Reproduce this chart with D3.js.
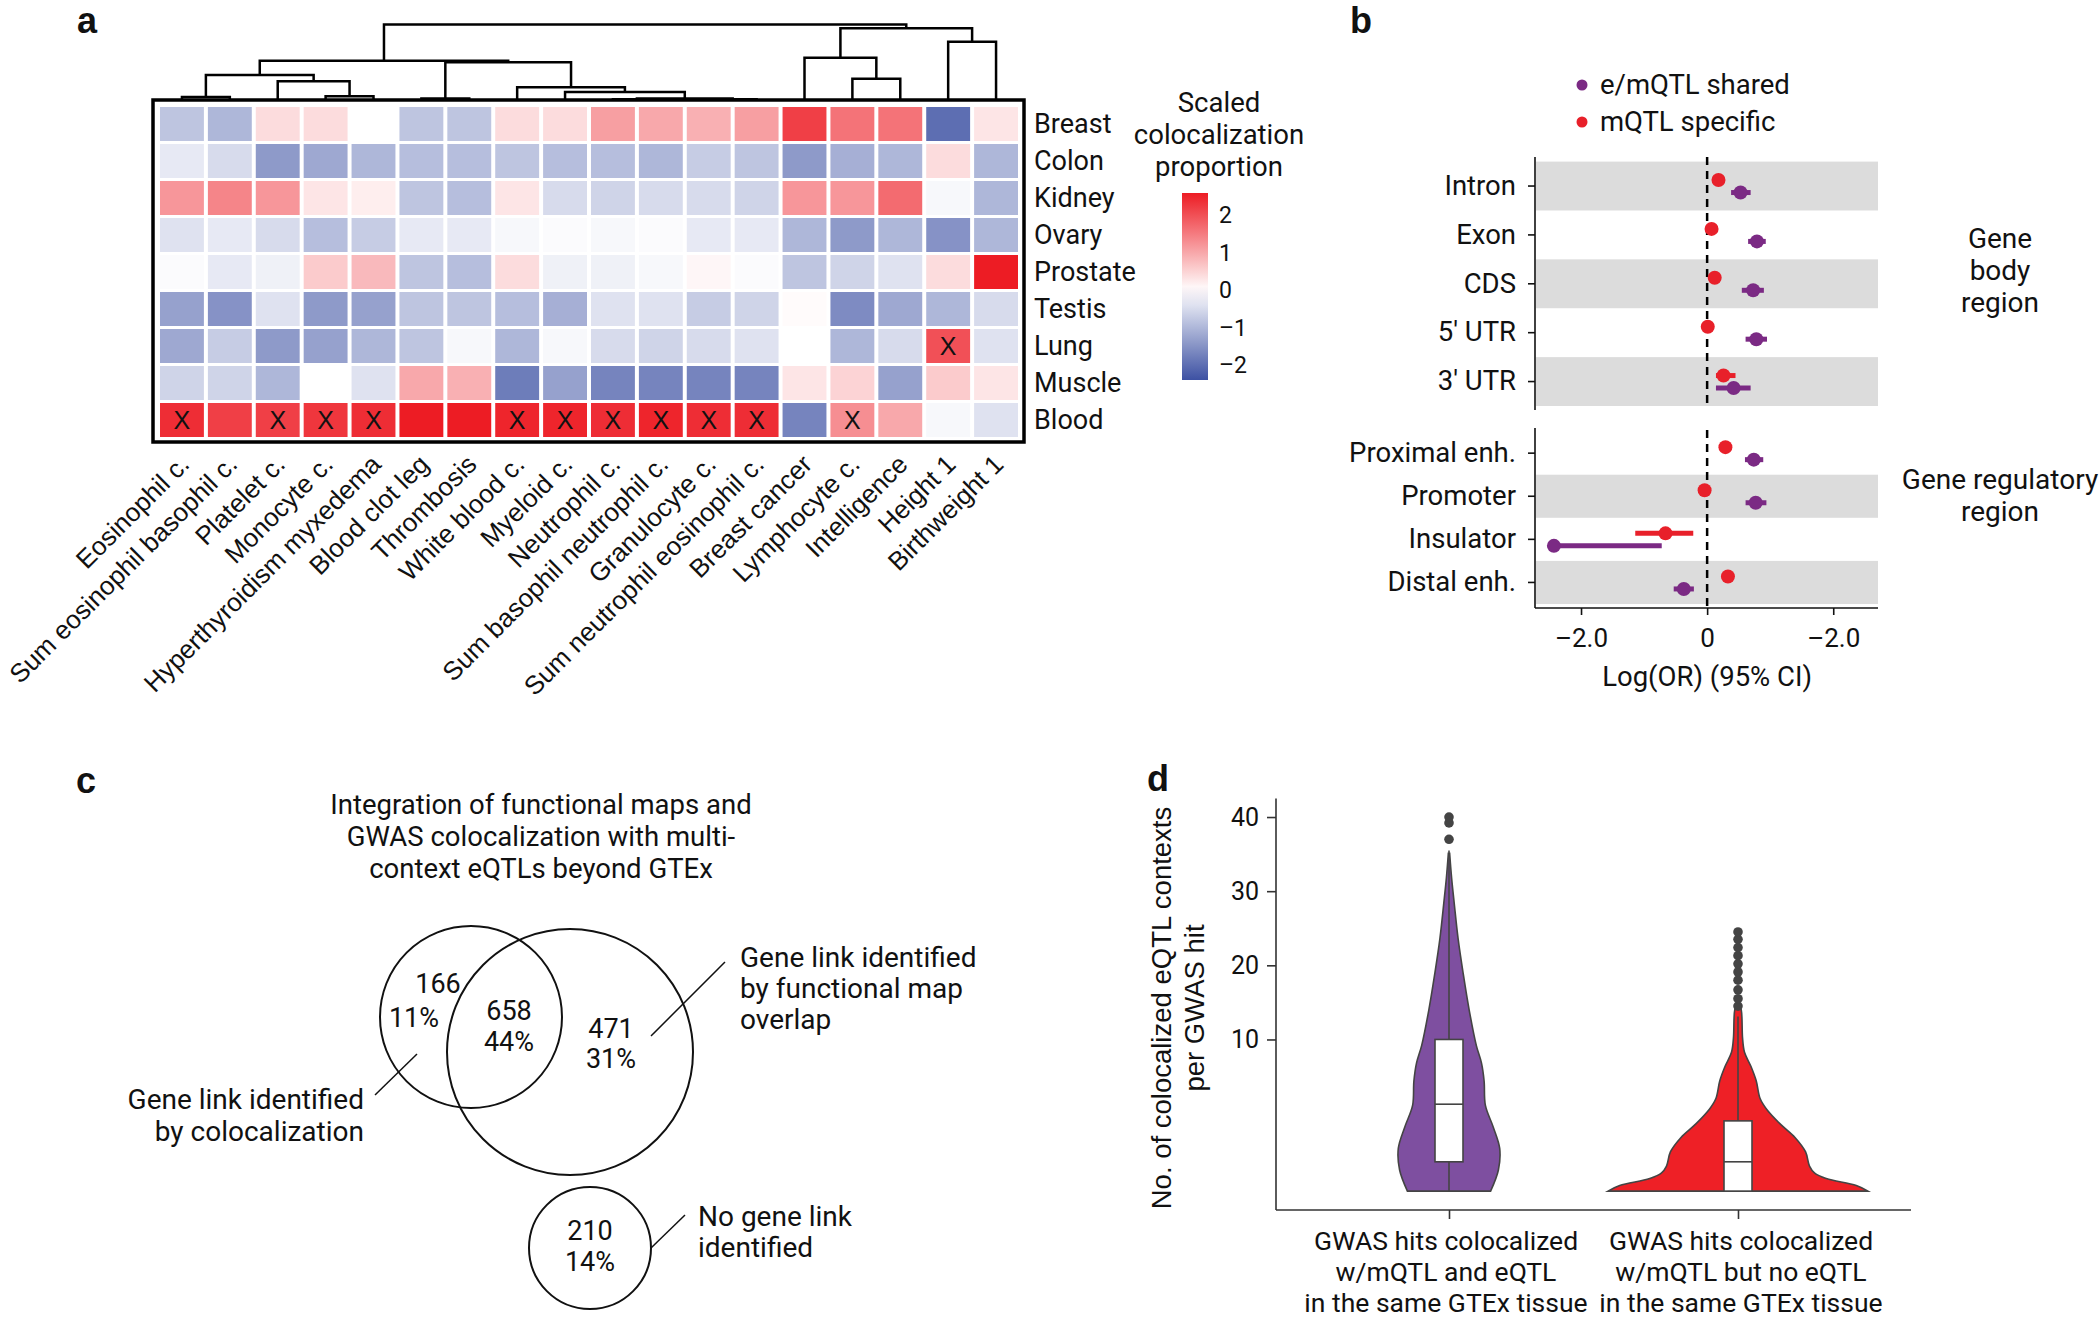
<!DOCTYPE html>
<html>
<head>
<meta charset="utf-8">
<script src="https://cdn.jsdelivr.net/npm/d3@7"></script>
<style>
  body { margin: 0; background: #fff; }
  text { font-family: Roboto, "Noto Sans", sans-serif; fill: #111; }
  .lab { font-family: "Liberation Sans", Arial, sans-serif; font-weight: bold; font-size: 36px; }
</style>
</head>
<body>
<svg id="fig" width="2100" height="1319"></svg>
<script>
var svg = d3.select("#fig");
svg.append("rect").attr("width", 2100).attr("height", 1319).attr("fill", "#fff");

// ---------- panel a data ----------
var traits = ["Eosinophil c.", "Sum eosinophil basophil c.", "Platelet c.", "Monocyte c.",
  "Hyperthyroidism myxedema", "Blood clot leg", "Thrombosis", "White blood c.", "Myeloid c.",
  "Neutrophil c.", "Sum basophil neutrophil c.", "Granulocyte c.", "Sum neutrophil eosinophil c.",
  "Breast cancer", "Lymphocyte c.", "Intelligence", "Height 1", "Birthweight 1"];
var tissues = ["Breast", "Colon", "Kidney", "Ovary", "Prostate", "Testis", "Lung", "Muscle", "Blood"];
var heat = [
  [-0.8, -1.0, 0.4, 0.4, 0.0, -0.8, -0.8, 0.4, 0.4, 1.1, 1.0, 0.9, 1.1, 2.2, 1.6, 1.6, -2.0, 0.3],
  [-0.3, -0.5, -1.4, -1.2, -1.0, -0.9, -0.9, -0.8, -0.9, -0.9, -1.0, -0.7, -0.8, -1.4, -1.1, -1.0, 0.4, -1.0],
  [1.2, 1.4, 1.2, 0.3, 0.2, -0.8, -0.9, 0.3, -0.5, -0.6, -0.5, -0.5, -0.6, 1.2, 1.2, 1.7, -0.1, -1.0],
  [-0.4, -0.3, -0.5, -0.9, -0.7, -0.3, -0.3, -0.1, -0.05, -0.1, -0.05, -0.3, -0.3, -1.0, -1.4, -1.0, -1.5, -1.0],
  [-0.05, -0.3, -0.2, 0.6, 0.8, -0.8, -0.9, 0.4, -0.2, -0.2, -0.1, 0.1, -0.05, -0.8, -0.6, -0.4, 0.4, 2.6],
  [-1.3, -1.5, -0.4, -1.4, -1.3, -0.8, -0.8, -0.9, -1.1, -0.4, -0.4, -0.7, -0.6, 0.05, -1.6, -1.2, -1.0, -0.5],
  [-1.2, -0.7, -1.4, -1.3, -1.0, -0.8, -0.1, -1.0, -0.1, -0.5, -0.6, -0.5, -0.4, 0.0, -1.0, -0.5, 2.0, -0.4],
  [-0.6, -0.6, -1.0, 0.0, -0.4, 1.0, 0.9, -1.8, -1.3, -1.7, -1.7, -1.7, -1.7, 0.3, 0.5, -1.3, 0.6, 0.3],
  [2.4, 2.2, 2.2, 2.3, 2.4, 2.6, 2.6, 2.5, 2.5, 2.4, 2.5, 2.4, 2.4, -1.7, 1.3, 1.0, -0.1, -0.4]
];
// [row, col] of cells marked with X
var xMarks = [[8,0],[8,2],[8,3],[8,4],[8,7],[8,8],[8,9],[8,10],[8,11],[8,12],[8,14],[6,16]];
// dendrogram: [height, left, right], leaves are column indices
var tree = [1.0,
  [0.52, [0.33, [0.04, 0, 1], [0.25, 2, [0.05, 3, 4]]],
         [0.50, [0.02, 5, 6], [0.17, 7, [0.105, 8, [0.02, [0.01, 9, 10], [0.01, 11, 12]]]]]],
  [0.95, [0.56, 13, [0.28, 14, 15]], [0.77, 16, 17]]];
var barTicks = [2, 1, 0, -1, -2];
var barTickLabels = ["2", "1", "0", "\u20131", "\u20132"];

// ---------- panel a ----------
var color = d3.scaleLinear().domain([-2.4, 0, 2.6]).range(["#3d51a3", "#ffffff", "#ed1c24"]);
var hx = d3.scaleBand().domain(d3.range(traits.length)).range([158, 1020]);
var hy = d3.scaleBand().domain(d3.range(tissues.length)).range([105.5, 438.5]);

var gA = svg.append("g");
gA.append("text").attr("class", "lab").attr("x", 77).attr("y", 33).text("a");

heat.forEach(function(row, r) {
  row.forEach(function(v, c) {
    gA.append("rect")
      .attr("x", hx(c) + 2).attr("y", hy(r) + 1.5)
      .attr("width", hx.bandwidth() - 4).attr("height", hy.bandwidth() - 3)
      .attr("fill", color(v));
  });
});
gA.selectAll(".xm").data(xMarks).enter().append("text")
  .attr("x", function(d) { return hx(d[1]) + hx.bandwidth() / 2; })
  .attr("y", function(d) { return hy(d[0]) + hy.bandwidth() / 2 + 9; })
  .attr("text-anchor", "middle").style("font-family", "'Liberation Sans', Arial")
  .style("font-size", "25px").text("X");

gA.append("rect").attr("x", 153).attr("y", 100).attr("width", 871).attr("height", 342)
  .attr("fill", "none").attr("stroke", "#000").attr("stroke-width", 3.5);

// dendrogram
var dy = d3.scaleLinear().domain([0, 1]).range([100, 24.5]);
function drawNode(n) {
  if (typeof n === "number") return {x: hx(n) + hx.bandwidth() / 2, y: dy(0)};
  var l = drawNode(n[1]), r = drawNode(n[2]), y = dy(n[0]);
  gA.append("path")
    .attr("d", "M" + l.x + "," + l.y + "V" + y + "H" + r.x + "V" + r.y)
    .attr("fill", "none").attr("stroke", "#000").attr("stroke-width", 2.5);
  return {x: (l.x + r.x) / 2, y: y};
}
drawNode(tree);

gA.selectAll(".rl").data(tissues).enter().append("text")
  .attr("x", 1034).attr("y", function(d, i) { return hy(i) + hy.bandwidth() / 2 + 9; })
  .style("font-size", "27px").text(function(d) { return d; });

gA.selectAll(".cl").data(traits).enter().append("text")
  .attr("text-anchor", "end")
  .attr("transform", function(d, i) {
    return "translate(" + (hx(i) + hx.bandwidth() / 2 + 9) + ",466) rotate(-45)";
  })
  .style("font-family", "'Liberation Sans', Arial").style("font-size", "26px")
  .text(function(d) { return d; });

// colour bar
var grad = svg.append("defs").append("linearGradient").attr("id", "cbar")
  .attr("x1", 0).attr("y1", 0).attr("x2", 0).attr("y2", 1);
d3.range(0, 1.001, 0.1).forEach(function(t) {
  grad.append("stop").attr("offset", t).attr("stop-color", color(2.6 - 5 * t));
});
var cb = d3.scaleLinear().domain([2.6, -2.4]).range([193, 380]);
gA.append("rect").attr("x", 1182).attr("y", 193).attr("width", 26).attr("height", 187)
  .attr("fill", "url(#cbar)");
gA.selectAll(".cbt").data(barTicks).enter().append("text")
  .attr("x", 1219).attr("y", function(d) { return cb(d) + 8; })
  .style("font-size", "23px").text(function(d, i) { return barTickLabels[i]; });
["Scaled", "colocalization", "proportion"].forEach(function(t, i) {
  gA.append("text").attr("x", 1219).attr("y", 112 + i * 32).attr("text-anchor", "middle")
    .style("font-size", "27.5px").text(t);
});

// ---------- panel b data ----------
var regions = ["Intron", "Exon", "CDS", "5' UTR", "3' UTR", "Proximal enh.", "Promoter", "Insulator", "Distal enh."];
var sharedOR = [0.53, 0.79, 0.73, 0.78, 0.42, 0.74, 0.77, -2.43, -0.37];
var sharedLo = [0.38, 0.65, 0.55, 0.61, 0.14, 0.60, 0.61, -2.50, -0.53];
var sharedHi = [0.69, 0.93, 0.90, 0.95, 0.69, 0.89, 0.94, -0.72, -0.21];
var specOR = [0.18, 0.07, 0.12, 0.01, 0.26, 0.29, -0.04, -0.66, 0.33];
var specLo = [0.10, 0.00, 0.04, -0.07, 0.14, 0.21, -0.14, -1.14, 0.25];
var specHi = [0.26, 0.14, 0.20, 0.09, 0.45, 0.37, 0.06, -0.22, 0.41];
var orTicks = [-2, 0, 2];
var orTickLabels = ["\u20132.0", "0", "\u20132.0"];

// ---------- panel b ----------
var gB = svg.append("g");
gB.append("text").attr("class", "lab").attr("x", 1350).attr("y", 33).text("b");
var bx = d3.scaleLinear().domain([-2.73, 2.71]).range([1535, 1878]);
var byTop = d3.scaleBand().domain(regions.slice(0, 5)).range([161.6, 406]);
var byBot = d3.scaleBand().domain(regions.slice(5)).range([431.6, 604]);
function isTop(name) { return byTop.domain().indexOf(name) >= 0; }
function by(name) { return isTop(name) ? byTop(name) : byBot(name); }
function bh(name) { return isTop(name) ? byTop.bandwidth() : byBot.bandwidth(); }

regions.forEach(function(r, i) {
  if (i % 2 === 0) {
    gB.append("rect").attr("x", 1536).attr("y", by(r)).attr("width", 342).attr("height", bh(r))
      .attr("fill", "#dcdcdc");
  }
});
// zero line
[[157, 406], [430, 608]].forEach(function(s) {
  gB.append("line").attr("x1", bx(0)).attr("x2", bx(0)).attr("y1", s[0]).attr("y2", s[1])
    .attr("stroke", "#000").attr("stroke-width", 2.5).attr("stroke-dasharray", "8,6");
});
// axes
var axTop = gB.append("g").attr("transform", "translate(1535,0)")
  .call(d3.axisLeft(byTop).tickSize(7).tickSizeOuter(0).tickPadding(12));
axTop.select(".domain").attr("d", "M0,157V410");
var axBot = gB.append("g").attr("transform", "translate(1535,0)")
  .call(d3.axisLeft(byBot).tickSize(7).tickSizeOuter(0).tickPadding(12));
axBot.select(".domain").attr("d", "M0,428V608");
var axX = gB.append("g").attr("transform", "translate(0,608)")
  .call(d3.axisBottom(bx).tickValues(orTicks).tickSize(7).tickSizeOuter(0).tickPadding(14)
    .tickFormat(function(d, i) { return orTickLabels[i]; }));
axX.select(".domain").attr("d", "M1535,0H1878");
[axTop, axBot, axX].forEach(function(a) {
  a.selectAll(".tick text").style("font-size", "27.5px").style("font-family", "Roboto").attr("fill", "#111");
  a.selectAll(".tick line, .domain").attr("stroke", "#111").attr("stroke-width", 1.6);
});
axX.selectAll(".tick text").style("font-size", "26px");

var purple = "#7b2a84", red = "#e8202a";
regions.forEach(function(r, i) {
  var c = by(r) + bh(r) / 2;
  gB.append("line").attr("x1", bx(specLo[i])).attr("x2", bx(specHi[i]))
    .attr("y1", c - 6).attr("y2", c - 6).attr("stroke", red).attr("stroke-width", 5);
  gB.append("circle").attr("cx", bx(specOR[i])).attr("cy", c - 6).attr("r", 7).attr("fill", red);
  gB.append("line").attr("x1", bx(sharedLo[i])).attr("x2", bx(sharedHi[i]))
    .attr("y1", c + 6.5).attr("y2", c + 6.5).attr("stroke", purple).attr("stroke-width", 5);
  gB.append("circle").attr("cx", bx(sharedOR[i])).attr("cy", c + 6.5).attr("r", 7).attr("fill", purple);
});
gB.append("text").attr("x", bx(0)).attr("y", 686).attr("text-anchor", "middle")
  .style("font-size", "27.5px").text("Log(OR) (95% CI)");
// legend
[["e/mQTL shared", purple], ["mQTL specific", red]].forEach(function(d, i) {
  gB.append("circle").attr("cx", 1582).attr("cy", 85 + i * 37).attr("r", 5.5).attr("fill", d[1]);
  gB.append("text").attr("x", 1600).attr("y", 94 + i * 37).style("font-size", "27.5px").text(d[0]);
});
[["Gene", "body", "region"], ["Gene regulatory", "region"]].forEach(function(lines, k) {
  var y0 = k === 0 ? 248 : 489;
  lines.forEach(function(t, i) {
    gB.append("text").attr("x", 2000).attr("y", y0 + i * 32).attr("text-anchor", "middle")
      .style("font-size", "28px").text(t);
  });
});

// ---------- panel c data ----------
var vennCounts = ["166", "658", "471", "210"];
var vennPct = ["11%", "44%", "31%", "14%"];

// ---------- panel c ----------
var gC = svg.append("g");
gC.append("text").attr("class", "lab").attr("x", 76).attr("y", 793).text("c");
["Integration of functional maps and", "GWAS colocalization with multi-", "context eQTLs beyond GTEx"]
  .forEach(function(t, i) {
    gC.append("text").attr("x", 541).attr("y", 814 + i * 32).attr("text-anchor", "middle")
      .style("font-size", "27.5px").text(t);
  });
[[471, 1017, 91], [570, 1052, 123], [590, 1248, 61]].forEach(function(c) {
  gC.append("circle").attr("cx", c[0]).attr("cy", c[1]).attr("r", c[2])
    .attr("fill", "none").attr("stroke", "#111").attr("stroke-width", 2);
});
var vennPos = [[438, 993, 1027], [509, 1020, 1051], [611, 1038, 1068], [590, 1240, 1271]];
vennPos.forEach(function(p, i) {
  gC.append("text").attr("x", p[0]).attr("y", p[1]).attr("text-anchor", "middle")
    .style("font-size", "27px").text(vennCounts[i]);
  gC.append("text").attr("x", p[0] - (i === 0 ? 24 : 0)).attr("y", p[2]).attr("text-anchor", "middle")
    .style("font-size", "27px").text(vennPct[i]);
});
[[725, 962, 651, 1036], [375, 1095, 417, 1054], [685, 1215, 651, 1248]].forEach(function(l) {
  gC.append("line").attr("x1", l[0]).attr("y1", l[1]).attr("x2", l[2]).attr("y2", l[3])
    .attr("stroke", "#111").attr("stroke-width", 1.5);
});
["Gene link identified", "by functional map", "overlap"].forEach(function(t, i) {
  gC.append("text").attr("x", 740).attr("y", 967 + i * 31).style("font-size", "28px").text(t);
});
["Gene link identified", "by colocalization"].forEach(function(t, i) {
  gC.append("text").attr("x", 364).attr("y", 1109 + i * 32).attr("text-anchor", "end")
    .style("font-size", "28px").text(t);
});
["No gene link", "identified"].forEach(function(t, i) {
  gC.append("text").attr("x", 698).attr("y", 1226 + i * 31).style("font-size", "28px").text(t);
});

// ---------- panel d data ----------
var groups = ["GWAS hits colocalized|w/mQTL and eQTL|in the same GTEx tissue",
              "GWAS hits colocalized|w/mQTL but no eQTL|in the same GTEx tissue"];
var countTicks = [10, 20, 30, 40];
var violinAVal = [-10.45, -7.6, -4.7, -1.8, 1.1, 4.4, 6.8, 9.2, 14, 18.8, 23.6, 28.4, 31.8, 35.1];
var violinADen = [0.32, 0.38, 0.39, 0.34, 0.28, 0.27, 0.25, 0.21, 0.155, 0.11, 0.07, 0.04, 0.02, 0.005];
var violinBVal = [-10.45, -9.7, -8.76, -8.04, -7.08, -5.17, -3.25, -1.32, 0.59, 2.03, 4.43, 6.35, 8.27, 10.2, 14.0, 15.0];
var violinBDen = [1.0, 0.91, 0.68, 0.59, 0.55, 0.52, 0.44, 0.32, 0.22, 0.17, 0.14, 0.10, 0.05, 0.035, 0.025, 0.004];
// [whisker low, q1, median, q3, whisker high]
var boxA = [-10.45, -6.5, 1.27, 10, 35.5];
var boxB = [-10.45, -10.45, -6.5, -0.98, 13.1];
var outA = [37, 39.2, 40];
var outB = [14.5, 15.5, 16.7, 18, 19.1, 20.2, 21.3, 22.4, 23.5, 24.5];

// ---------- panel d ----------
var gD = svg.append("g");
gD.append("text").attr("class", "lab").attr("x", 1147).attr("y", 791).text("d");
var dyS = d3.scaleLinear().domain([-13, 42.5]).range([1210, 798.5]);
var dxS = d3.scalePoint().domain([0, 1]).range([1449, 1738]);
var wS = d3.scaleLinear().domain([0, 1]).range([0, 130]);

var axY = gD.append("g").attr("transform", "translate(1276,0)")
  .call(d3.axisLeft(dyS).tickValues(countTicks).tickSize(9).tickSizeOuter(0).tickPadding(8));
axY.select(".domain").attr("d", "M0,798.5V1210");
axY.selectAll("text").style("font-size", "25px").style("font-family", "Roboto").attr("fill", "#222");
var axG = gD.append("g").attr("transform", "translate(0,1210)")
  .call(d3.axisBottom(dxS).tickSize(9).tickFormat(""));
axG.select(".domain").attr("d", "M1276,0H1911");
gD.selectAll(".tick line, .domain").attr("stroke", "#333").attr("stroke-width", 1.6);

groups.forEach(function(g, i) {
  g.split("|").forEach(function(t, k) {
    gD.append("text").attr("x", dxS(i) + (i === 0 ? -3 : 3)).attr("y", 1250 + k * 31).attr("text-anchor", "middle")
      .style("font-size", "26.5px").text(t);
  });
});
gD.append("text").attr("transform", "translate(1171,1008) rotate(-90)").attr("text-anchor", "middle")
  .style("font-family", "'Liberation Sans', Arial").style("font-size", "27.5px")
  .text("No. of colocalized eQTL contexts");
gD.append("text").attr("transform", "translate(1204,1008) rotate(-90)").attr("text-anchor", "middle")
  .style("font-family", "'Liberation Sans', Arial").style("font-size", "27.5px")
  .text("per GWAS hit");

function violin(vals, dens, box, outs, i, fill) {
  var cx = dxS(i);
  var pts = vals.map(function(v, k) { return [v, dens[k]]; });
  var area = d3.area().curve(d3.curveCatmullRom)
    .y(function(d) { return dyS(d[0]); })
    .x0(function(d) { return cx - wS(d[1]); })
    .x1(function(d) { return cx + wS(d[1]); });
  gD.append("path").attr("d", area(pts)).attr("fill", fill)
    .attr("stroke", "#444").attr("stroke-width", 1.6);
  gD.append("line").attr("x1", cx).attr("x2", cx).attr("y1", dyS(box[0])).attr("y2", dyS(box[4]))
    .attr("stroke", "#444").attr("stroke-width", 1.6);
  gD.append("rect").attr("x", cx - 14).attr("y", dyS(box[3])).attr("width", 28)
    .attr("height", dyS(box[1]) - dyS(box[3])).attr("fill", "#fff")
    .attr("stroke", "#444").attr("stroke-width", 1.6);
  gD.append("line").attr("x1", cx - 14).attr("x2", cx + 14).attr("y1", dyS(box[2])).attr("y2", dyS(box[2]))
    .attr("stroke", "#444").attr("stroke-width", 1.6);
  gD.selectAll(null).data(outs).enter().append("circle")
    .attr("cx", cx).attr("cy", function(d) { return dyS(d); }).attr("r", 4.8).attr("fill", "#444");
}
violin(violinAVal, violinADen, boxA, outA, 0, "#7e4fa0");
violin(violinBVal, violinBDen, boxB, outB, 1, "#ee2026");
</script>
</body>
</html>
